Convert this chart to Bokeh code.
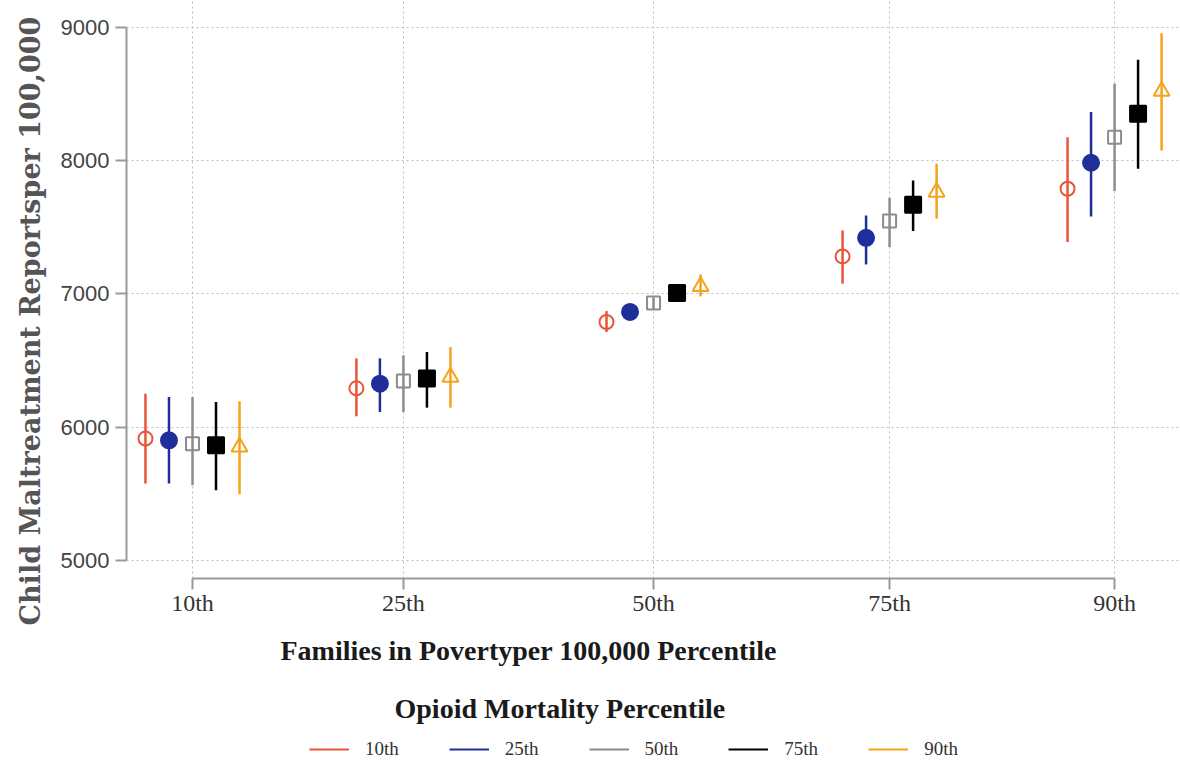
from bokeh.plotting import figure
from bokeh.models import ColumnDataSource, Legend, LegendItem, Title, FixedTicker, Range1d
from bokeh.layouts import column
from bokeh.embed import file_html
from bokeh.resources import INLINE

# ---- data ----
poverty_labels = ["10th", "25th", "50th", "75th", "90th"]
poverty_pos = [1.0, 1.915, 3.0, 4.024, 5.0]
opioid_labels = ["10th", "25th", "50th", "75th", "90th"]

est_p10 = [5915, 6292, 6790, 7282, 7790]
lo_p10 = [5577, 6082, 6715, 7077, 7390]
hi_p10 = [6252, 6517, 6872, 7477, 8177]

est_p25 = [5902, 6327, 6865, 7422, 7985]
lo_p25 = [5577, 6114, 6835, 7222, 7582]
hi_p25 = [6227, 6517, 6895, 7590, 8365]

est_p50 = [5877, 6347, 6932, 7547, 8177]
lo_p50 = [5565, 6114, 6885, 7352, 7772]
hi_p50 = [6227, 6540, 6975, 7722, 8577]

est_p75 = [5865, 6365, 7007, 7670, 8352]
lo_p75 = [5527, 6147, 6940, 7472, 7940]
hi_p75 = [6190, 6565, 7035, 7852, 8757]

est_p90 = [5852, 6377, 7057, 7765, 8522]
lo_p90 = [5497, 6147, 6982, 7565, 8077]
hi_p90 = [6195, 6602, 7147, 7977, 8957]

y_ticks = [5000, 6000, 7000, 8000, 9000]

series = [
    (est_p10, lo_p10, hi_p10),
    (est_p25, lo_p25, hi_p25),
    (est_p50, lo_p50, hi_p50),
    (est_p75, lo_p75, hi_p75),
    (est_p90, lo_p90, hi_p90),
]

# ---- styles ----
colors = ["#e8553a", "#1f2e98", "#8c8c8c", "#000000", "#f5a21c"]
markers = ["circle", "circle", "square", "square", "triangle"]
filled = [False, True, False, True, False]
sizes = [14, 16, 13, 16, 16]
offsets = [-0.204, -0.102, 0.0, 0.102, 0.204]

p = figure(frame_width=1054, frame_height=578, output_backend="svg", toolbar_location=None,
           x_range=Range1d(0.7137, 5.286), y_range=Range1d(4865, 9202.5),
           min_border_left=126, min_border_right=0, min_border_top=0, min_border_bottom=0)
p.outline_line_color = None
p.background_fill_color = "white"
p.border_fill_color = "white"

for i, (est, lo, hi) in enumerate(series):
    xs = [g + offsets[i] for g in poverty_pos]
    src = ColumnDataSource(dict(x=xs, est=est, lo=lo, hi=hi))
    p.segment(x0="x", y0="lo", x1="x", y1="hi", source=src,
              line_color=colors[i], line_width=2.5)
    p.scatter(x="x", y="est", source=src, marker=markers[i], size=sizes[i],
              line_color=colors[i], line_width=2,
              fill_color=colors[i] if filled[i] else None)

# axes
p.yaxis.ticker = FixedTicker(ticks=y_ticks)
p.yaxis.bounds = (y_ticks[0], y_ticks[-1])
p.xaxis.ticker = FixedTicker(ticks=poverty_pos)
p.xaxis.bounds = (poverty_pos[0], poverty_pos[-1])
p.xaxis.major_label_overrides = {pos: lab for pos, lab in zip(poverty_pos, poverty_labels)}

for ax in (p.xaxis, p.yaxis):
    ax.axis_line_color = "#9a9a9a"
    ax.axis_line_width = 2
    ax.major_tick_line_color = "#9a9a9a"
    ax.major_tick_line_width = 2
    ax.major_tick_out = 11
    ax.major_tick_in = 0
    ax.minor_tick_line_color = None

p.yaxis.major_label_text_font = "Liberation Sans"
p.yaxis.major_label_text_font_size = "22px"
p.yaxis.major_label_text_color = "#444444"
p.yaxis.major_label_standoff = 6
p.yaxis.major_label_orientation = "horizontal"

p.xaxis.major_label_text_font = "Liberation Serif"
p.xaxis.major_label_text_font_size = "24px"
p.xaxis.major_label_text_color = "#333333"
p.xaxis.major_label_standoff = 0

# y title on the left
ytitle = Title(text="Child Maltreatment Reportsper 100,000", align="left", offset=-47,
               text_font="DejaVu Serif", text_font_style="bold",
               text_font_size="27px", text_color="#555555", standoff=24)
p.add_layout(ytitle, "left")

# grid
for g in (p.xgrid, p.ygrid):
    g.grid_line_color = "#bdbdbd"
    g.grid_line_dash = "2 3"
    g.grid_line_width = 1

# titles below
xtitle = Title(text="Families in Povertyper 100,000 Percentile", align="left", offset=154,
               text_font="Liberation Serif", text_font_style="bold",
               text_font_size="28px", text_color="#1a1a1a", standoff=28)
p.add_layout(xtitle, "below")

ltitle = Title(text="Opioid Mortality Percentile", align="left", offset=268,
               text_font="Liberation Serif", text_font_style="bold",
               text_font_size="28px", text_color="#1a1a1a", standoff=22)
p.add_layout(ltitle, "below")

# ---- legend strip below ----
p2 = figure(width=1180, height=32, output_backend="svg", toolbar_location=None,
            x_range=Range1d(0, 1), y_range=Range1d(0, 1),
            min_border_left=0, min_border_right=0, min_border_top=0, min_border_bottom=0)
p2.axis.visible = False
p2.grid.visible = False
p2.outline_line_color = None
p2.background_fill_color = "white"
p2.border_fill_color = "white"

nan = float("nan")
legend_items = []
for i in range(len(series)):
    # placeholder renderer (NaN, draws nothing) used only for the legend swatch
    r = p2.line(x=[nan], y=[nan], line_color=colors[i], line_width=2)
    legend_items.append(LegendItem(label=opioid_labels[i], renderers=[r]))

legend = Legend(items=legend_items, orientation="horizontal", location=(183, 6),
                glyph_width=40, glyph_height=16, label_height=16, label_standoff=16, spacing=50,
                label_text_font="Liberation Serif", label_text_font_size="19px",
                label_text_color="#333333", border_line_color=None,
                background_fill_alpha=0, padding=0, margin=0)
p2.add_layout(legend)

layout = column(p, p2, spacing=0)
open("out.html", "w").write(file_html(layout, INLINE))
